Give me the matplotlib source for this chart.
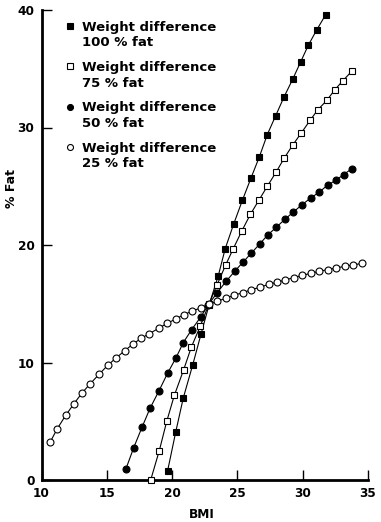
import matplotlib
matplotlib.use("Agg")
import matplotlib.pyplot as plt
from matplotlib.lines import Line2D
from matplotlib.legend import Legend

# ---- data ----
bmi_100 = [19.66, 20.28, 20.86, 21.58, 22.21, 22.83, 23.54, 24.07, 24.72, 25.38,
           26.04, 26.68, 27.29, 27.93, 28.57, 29.23, 29.85, 30.43, 31.07, 31.76]
fat_100 = [0.8, 4.1, 7.0, 9.8, 12.4, 14.9, 17.4, 19.7, 21.8, 23.8,
           25.7, 27.5, 29.4, 31.0, 32.6, 34.1, 35.6, 37.0, 38.3, 39.6]

bmi_75 = [18.36, 19.02, 19.59, 20.17, 20.89, 21.47, 22.16, 22.83, 23.44, 24.10,
          24.69, 25.34, 25.99, 26.64, 27.29, 27.96, 28.59, 29.23, 29.87, 30.56,
          31.15, 31.84, 32.45, 33.09, 33.77]
fat_75 = [0.0, 2.5, 5.0, 7.2, 9.4, 11.3, 13.1, 15.0, 16.6, 18.3,
          19.7, 21.2, 22.6, 23.8, 25.0, 26.2, 27.4, 28.5, 29.5, 30.6,
          31.5, 32.3, 33.2, 34.0, 34.8]

bmi_50 = [16.45, 17.06, 17.70, 18.31, 19.00, 19.66, 20.30, 20.86, 21.50, 22.21,
          22.77, 23.42, 24.13, 24.82, 25.44, 26.06, 26.72, 27.32, 27.97, 28.65,
          29.28, 29.92, 30.61, 31.27, 31.91, 32.53, 33.14, 33.77]
fat_50 = [0.9, 2.75, 4.5, 6.1, 7.6, 9.1, 10.4, 11.7, 12.8, 13.9,
          14.9, 15.9, 16.9, 17.8, 18.55, 19.3, 20.1, 20.85, 21.5, 22.2,
          22.8, 23.4, 24.0, 24.5, 25.1, 25.5, 26.0, 26.5]

bmi_25 = [10.65, 11.21, 11.85, 12.49, 13.10, 13.71, 14.43, 15.07, 15.70, 16.37,
          16.98, 17.62, 18.25, 18.97, 19.63, 20.28, 20.89, 21.52, 22.21, 22.83,
          23.46, 24.10, 24.76, 25.43, 26.06, 26.73, 27.40, 28.03, 28.64, 29.31,
          29.97, 30.64, 31.25, 31.91, 32.55, 33.22, 33.87, 34.54]
fat_25 = [3.2, 4.37, 5.5, 6.5, 7.4, 8.17, 9.02, 9.76, 10.38, 11.0,
          11.55, 12.05, 12.45, 12.91, 13.34, 13.7, 14.07, 14.36, 14.66, 14.95,
          15.21, 15.46, 15.74, 15.94, 16.2, 16.4, 16.66, 16.83, 17.02, 17.22,
          17.42, 17.59, 17.76, 17.9, 18.04, 18.19, 18.3, 18.44]

labels_line1 = ["Weight difference"] * 4
labels_line2 = ["100 % fat", "75 % fat", "50 % fat", "25 % fat"]
x_ticks = [10, 15, 20, 25, 30, 35]
y_ticks = [0, 10, 20, 30, 40]

plt.rcParams['font.family'] = ['DejaVu Sans']
plt.rcParams['font.weight'] = 'bold'

fig = plt.figure(figsize=(3.81, 5.22), dpi=100)
ax = fig.add_axes([41.5 / 381, 42 / 522, 326.5 / 381, 470 / 522])

series = [
    (bmi_100, fat_100, 's', 'black'),
    (bmi_75, fat_75, 's', 'white'),
    (bmi_50, fat_50, 'o', 'black'),
    (bmi_25, fat_25, 'o', 'white'),
]
ms = 5.0
for xs, ys, mk, fc in series:
    ax.plot(xs, ys, color='black', lw=0.8, marker=mk, ms=ms, mfc=fc,
            mec='black', mew=0.8, clip_on=False, zorder=3)

ax.set_xlim(10, 35)
ax.set_ylim(0, 40)
ax.set_xticks(x_ticks)
ax.set_yticks(y_ticks)
ax.spines['top'].set_visible(False)
ax.spines['right'].set_visible(False)
ax.spines['left'].set_linewidth(2.0)
ax.spines['bottom'].set_linewidth(2.0)
ax.tick_params(direction='in', length=7, width=1.0, labelsize=8.7, pad=5)
for lab in ax.get_xticklabels() + ax.get_yticklabels():
    lab.set_fontweight('bold')

ax.set_xlabel("BMI", fontsize=8.7, fontweight='bold')
ax.set_ylabel("% Fat", fontsize=9, fontweight='bold')
ax.xaxis.set_label_coords(0.49, -0.06)
ax.yaxis.set_label_coords(-0.072, 0.62)

# legends: one per series, marker aligned with first text line
for i, (xs, ys, mk, fc) in enumerate(series):
    h1 = Line2D([], [], ls='none', marker=mk, ms=4.3, mfc=fc, mec='black', mew=0.8)
    h2 = Line2D([], [], ls='none', marker=None)
    leg = Legend(ax, [h1, h2], [labels_line1[i], labels_line2[i]],
                 loc='upper left', bbox_to_anchor=(0.075, 0.977 - i * 0.0857),
                 frameon=False, borderpad=0, borderaxespad=0,
                 labelspacing=0.2, handlelength=0.6, handletextpad=0.6,
                 prop={'size': 9.5, 'weight': 'bold'})
    ax.add_artist(leg)

fig.savefig("out.png", dpi=100)
